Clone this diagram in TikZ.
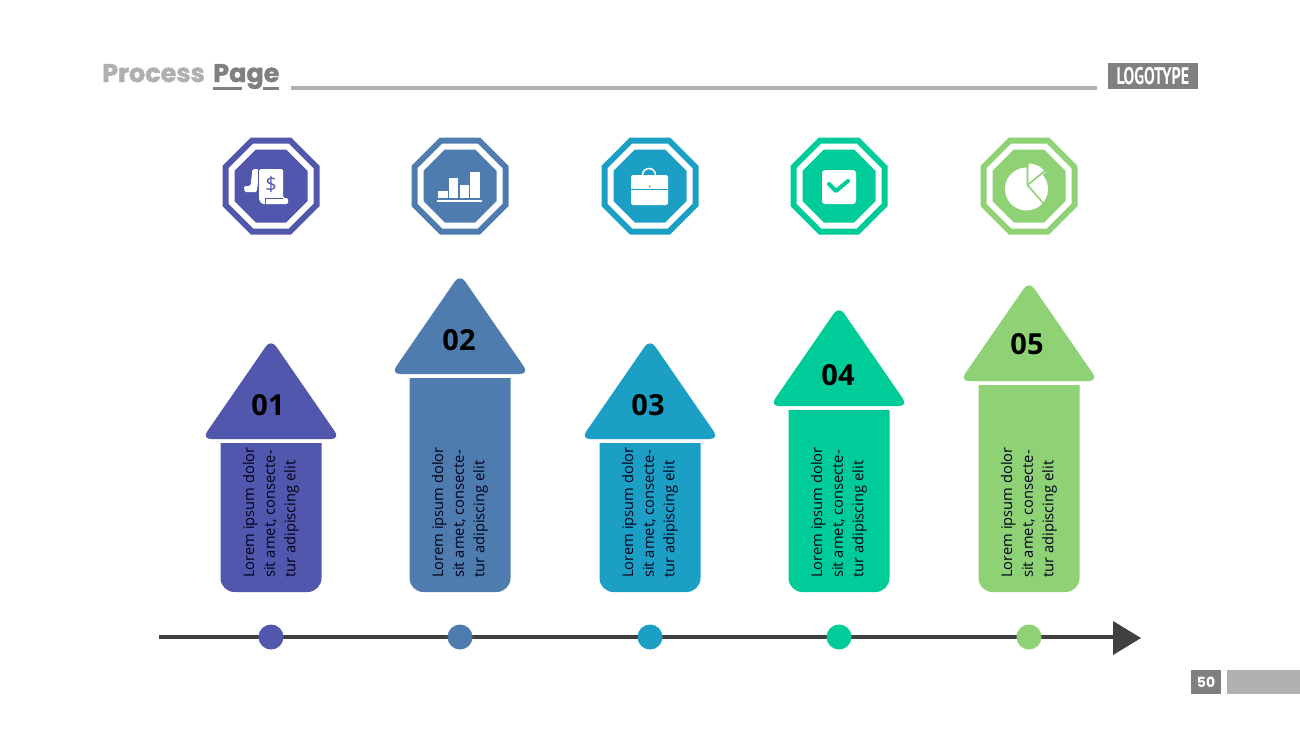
\documentclass[tikz,border=0pt]{standalone}
\usepackage{fontspec}
\setmainfont{Open Sans}
\newfontfamily\titlefont[BoldFeatures={FakeBold=1.6}]{Poppins}
\newfontfamily\pagefont{Poppins}
\newfontfamily\logofont{PT Sans}
\usetikzlibrary{calc}
\definecolor{cA}{HTML}{5157AC}
\definecolor{cB}{HTML}{4F7CAE}
\definecolor{cC}{HTML}{1B9FC5}
\definecolor{cD}{HTML}{00CC9A}
\definecolor{cE}{HTML}{8FD175}
\definecolor{grayL}{HTML}{B0B0B0}
\definecolor{grayD}{HTML}{808080}
\definecolor{axisc}{HTML}{404040}
\tikzset{
  numlabel/.style={font=\bfseries\fontsize{29}{29}\selectfont,text=black,inner sep=0pt},
  bodytext/.style={rotate=90,anchor=west,align=left,inner sep=0pt,text=black!90!blue,
    font=\fontsize{14.7}{20.6}\selectfont},
  dotmark/.style={circle,inner sep=0pt,minimum size=25pt},
}
\newcommand{\octa}[4]{% cx cy halfwidth colour
  \fill[#4] ($(#1,#2)+(-#3*0.414,-#3)$) -- ($(#1,#2)+(#3*0.414,-#3)$) -- ($(#1,#2)+(#3,-#3*0.414)$)
    -- ($(#1,#2)+(#3,#3*0.414)$) -- ($(#1,#2)+(#3*0.414,#3)$) -- ($(#1,#2)+(-#3*0.414,#3)$)
    -- ($(#1,#2)+(-#3,#3*0.414)$) -- ($(#1,#2)+(-#3,-#3*0.414)$) -- cycle;}
\newcommand{\badge}[2]{\octa{#1}{186}{48.5}{#2}\octa{#1}{186}{42.5}{white}\octa{#1}{186}{36.5}{#2}}
\newcommand{\arrowitem}[7]{% id cx apex colour number numdx numy
  \fill[#4,rounded corners=9pt] (#2,#3-4) -- (#2+69,#3+96) -- (#2-69,#3+96) -- cycle;
  \fill[#4] (#2-50.5,#3+100) [sharp corners] -- (#2+50.5,#3+100) [rounded corners=14pt] -- (#2+50.5,592) -- (#2-50.5,592) [sharp corners] -- cycle;
  \node[numlabel] (num#1) at (#2+#6,#7) {#5};
  \node[bodytext] (txt#1) at (#2,578) {Lorem ipsum dolor\\sit amet, consecte-\\tur adipiscing elit};
  \node[dotmark,fill=#4] (dot#1) at (#2,637) {};
}
\begin{document}
\begin{tikzpicture}[x=1pt,y=-1pt]
\useasboundingbox (0,0) rectangle (1300,731);
\fill[white] (0,0) rectangle (1300,731);

% header
\node[anchor=base west,inner sep=0pt,text=grayL,font=\titlefont\bfseries\fontsize{25.5}{26}\selectfont] (t1) at (102,82) {Process};
\node[anchor=base west,inner sep=0pt,text=grayD,font=\titlefont\bfseries\fontsize{25.5}{26}\selectfont] (t2) at (213,82) {Page};
\fill[grayD] (213,87) rectangle (242,90);
\fill[grayD] (263,87) rectangle (279,90);
\fill[grayL] (291,86) rectangle (1097,90);
\node[fill=grayD,minimum width=90pt,minimum height=26.5pt,inner sep=0pt,text=white] (logo) at (1153,76)
  {\scalebox{0.67}[1]{\logofont\bfseries\fontsize{24}{24}\selectfont LOGOTYPE}};

% badges
\badge{271}{cA}\badge{460}{cB}\badge{650}{cC}\badge{839}{cD}\badge{1029}{cE}

% icon 1: scroll
\fill[white,rounded corners=1.5pt] (259,169) -- (283,169) -- (283,198) -- (288,198) -- (288,204) -- (262,204) -- (259,200) -- cycle;
\fill[white,rounded corners=1.5pt] (252.5,169) -- (259,169) -- (257,192) -- (244.5,192) -- (244,186) -- (250.5,186) -- cycle;
\draw[cA,line width=0.8pt] (258.5,169) -- (258.5,186) -- (257,192.5);
\draw[cA,line width=0.6pt] (265,204) -- (265,198) -- (283,198);
\node[text=cA,inner sep=0pt,font=\fontsize{20}{20}\selectfont] (dollar) at (271,184.5) {\$};

% icon 2: bars
\fill[white] (438,191) rectangle (448,198);
\fill[white] (449,178) rectangle (458,198);
\fill[white] (460,185) rectangle (469,198);
\fill[white] (470,172) rectangle (480,198);
\fill[white] (437,199.5) rectangle (482,201.5);

% icon 3: briefcase
\draw[white,line width=1.5pt] (642.5,175) arc[start angle=180,end angle=360,radius=6.5];
\fill[white,rounded corners=2pt] (631,175) rectangle (668,205);
\draw[cC,line width=0.6pt] (631,189) -- (668,189);
\fill[cC] (649.5,186.5) circle (1);

% icon 4: checkbox
\fill[white,rounded corners=3pt] (822,170) rectangle (856,204);
\draw[cD,line width=4pt,line cap=round,line join=round] (829,184) -- (836,191) -- (848,181);

% icon 5: pie
\fill[white] (1026.5,189) circle (21.5);
\fill[white] (1028.5,184) -- (1028.5,163.5) arc[start angle=-90,end angle=-35,radius=21] -- cycle;
\draw[cE,line width=1.6pt] (1027.5,164) -- (1027.5,185) -- (1046,170);
\draw[cE,line width=1.6pt] (1027.5,185) -- (1044,204);

% timeline
\coordinate (tlstart) at (159,637);
\coordinate (tlend) at (1114,637);
\draw[axisc,line width=3.5pt] (tlstart) -- (tlend);
\fill[axisc] (1113,621) -- (1141,638) -- (1113,655) -- cycle;

% arrows
\arrowitem{1}{271}{343}{cA}{01}{-3}{405}
\arrowitem{2}{460}{278}{cB}{02}{-1}{340}
\arrowitem{3}{650}{343}{cC}{03}{-2}{405}
\arrowitem{4}{839}{310}{cD}{04}{-1}{375}
\arrowitem{5}{1029}{285}{cE}{05}{-2}{344}

% page number
\node[fill=grayD,minimum width=30pt,minimum height=24pt,inner sep=0pt,text=white,font=\pagefont\bfseries\fontsize{14}{14}\selectfont] (pg) at (1206,682) {50};
\fill[grayL] (1227,670) rectangle (1300,694);
\end{tikzpicture}
\end{document}
